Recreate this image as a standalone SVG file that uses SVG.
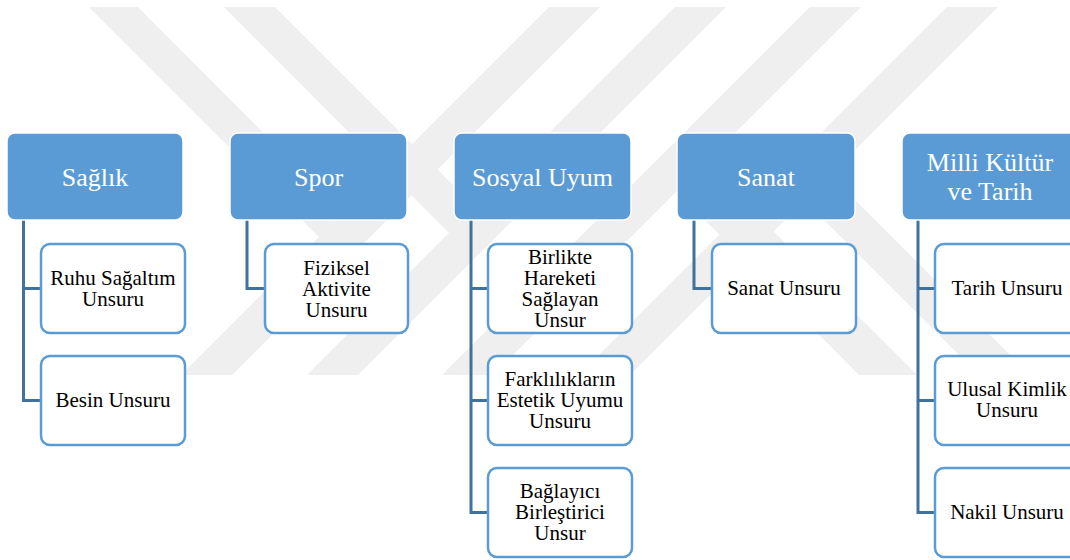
<svg xmlns="http://www.w3.org/2000/svg" width="1070" height="560" viewBox="0 0 1070 560">
<style>
.wm{fill:#efefef}
.hdr{fill:#5b9bd5;stroke:#ffffff;stroke-width:1.5}
.chd{fill:#ffffff;stroke:#5b9bd5;stroke-width:2.5}
.ht{font-family:'Liberation Serif','Times New Roman',serif;font-size:26px;fill:#ffffff;text-anchor:middle}
.ct{font-family:'Liberation Serif','Times New Roman',serif;font-size:21px;fill:#000000;text-anchor:middle}
.con{fill:none;stroke:#41719c;stroke-width:3}
</style>
<rect width="1070" height="560" fill="#ffffff"/>
<g id="watermark">
<polygon class="wm" points="549,7 600,7 232,375 181,375"/>
<polygon class="wm" points="675,7 726,7 358,375 307,375"/>
<polygon class="wm" points="810,7 861,7 493,375 442,375"/>
<polygon class="wm" points="947,7 998,7 630,375 579,375"/>
<polygon class="wm" points="89,7 138,7 343,213 319,237"/>
<polygon class="wm" points="224,7 275,7 475,207 449,233"/>
<polygon class="wm" points="676,191 705,163 917,375 859,375"/>
<polygon class="wm" points="804,200 830,175 1030,375 979,375"/>
</g>
<g id="connectors">
<path class="con" d="M23.5,220 V400.5 H41 M23.5,288.5 H41"/>
<path class="con" d="M247,220 V288.5 H265"/>
<path class="con" d="M471,220 V512.5 H488 M471,288.5 H488 M471,400.5 H488"/>
<path class="con" d="M694,220 V288.5 H712"/>
<path class="con" d="M918,220 V512.5 H935 M918,288.5 H935 M918,400.5 H935"/>
</g>
<g id="saglik">
<rect class="hdr" x="7" y="133" width="176" height="87" rx="8"/>
<text class="ht" x="95" y="186">Sağlık</text>
</g>
<g id="ruhu-sagaltim">
<rect class="chd" x="41" y="244" width="144" height="89" rx="9"/>
<text class="ct"><tspan x="113" y="285">Ruhu Sağaltım</tspan><tspan x="113" y="306">Unsuru</tspan></text>
</g>
<g id="besin">
<rect class="chd" x="41" y="356" width="144" height="89" rx="9"/>
<text class="ct" x="113" y="407">Besin Unsuru</text>
</g>
<g id="spor">
<rect class="hdr" x="230" y="133" width="177" height="87" rx="8"/>
<text class="ht" x="318.5" y="186">Spor</text>
</g>
<g id="fiziksel">
<rect class="chd" x="265" y="244" width="143" height="89" rx="9"/>
<text class="ct"><tspan x="336.5" y="275">Fiziksel</tspan><tspan x="336.5" y="296">Aktivite</tspan><tspan x="336.5" y="317">Unsuru</tspan></text>
</g>
<g id="sosyal-uyum">
<rect class="hdr" x="454" y="133" width="177" height="87" rx="8"/>
<text class="ht" x="542.5" y="186">Sosyal Uyum</text>
</g>
<g id="birlikte">
<rect class="chd" x="488" y="244" width="144" height="89" rx="9"/>
<text class="ct"><tspan x="560" y="264">Birlikte</tspan><tspan x="560" y="285">Hareketi</tspan><tspan x="560" y="306">Sağlayan</tspan><tspan x="560" y="327">Unsur</tspan></text>
</g>
<g id="farkliliklarin">
<rect class="chd" x="488" y="356" width="144" height="89" rx="9"/>
<text class="ct"><tspan x="560" y="386">Farklılıkların</tspan><tspan x="560" y="407">Estetik Uyumu</tspan><tspan x="560" y="428">Unsuru</tspan></text>
</g>
<g id="baglayici">
<rect class="chd" x="488" y="468" width="144" height="89" rx="9"/>
<text class="ct"><tspan x="560" y="498">Bağlayıcı</tspan><tspan x="560" y="519">Birleştirici</tspan><tspan x="560" y="540">Unsur</tspan></text>
</g>
<g id="sanat">
<rect class="hdr" x="677" y="133" width="178" height="87" rx="8"/>
<text class="ht" x="766" y="186">Sanat</text>
</g>
<g id="sanat-unsuru">
<rect class="chd" x="712" y="244" width="144" height="89" rx="9"/>
<text class="ct" x="784" y="295">Sanat Unsuru</text>
</g>
<g id="milli-kultur">
<rect class="hdr" x="902" y="133" width="177" height="87" rx="8"/>
<text class="ht"><tspan x="990" y="171">Milli Kültür</tspan><tspan x="990" y="200">ve Tarih</tspan></text>
</g>
<g id="tarih">
<rect class="chd" x="935" y="244" width="144" height="89" rx="9"/>
<text class="ct" x="1007" y="295">Tarih Unsuru</text>
</g>
<g id="ulusal-kimlik">
<rect class="chd" x="935" y="356" width="144" height="89" rx="9"/>
<text class="ct"><tspan x="1007" y="396">Ulusal Kimlik</tspan><tspan x="1007" y="417">Unsuru</tspan></text>
</g>
<g id="nakil">
<rect class="chd" x="935" y="468" width="144" height="89" rx="9"/>
<text class="ct" x="1007" y="519">Nakil Unsuru</text>
</g>
</svg>
